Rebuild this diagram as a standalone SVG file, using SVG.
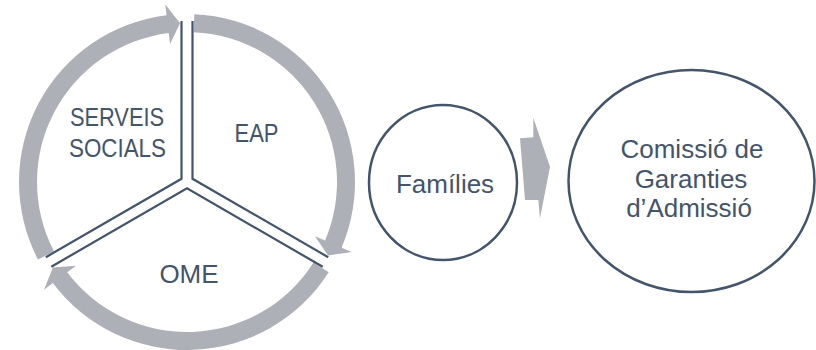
<svg xmlns="http://www.w3.org/2000/svg" width="816" height="350" viewBox="0 0 816 350">
<style>
.ring{fill:#ADB0B7;stroke:none}
.edge{fill:none;stroke:#44546A;stroke-width:2.2;stroke-linejoin:miter}
.node{fill:#FFFFFF;stroke:#44546A;stroke-width:2.5}
.arrow{fill:#ADB0B7;stroke:none}
.lbl{font-family:"Liberation Sans",Arial,sans-serif;font-size:26px;fill:#44546A;text-anchor:middle}
</style>
<rect width="816" height="350" fill="#FFFFFF"/>
<g id="connectors">
<path class="ring" d="M38,259.6 A168,168 0 0 1 166.53,15.25 L165.19,4.33 L180.06,23.15 L170.06,44.04 L168.72,33.12 A150,150 0 0 0 53.95,251.25 Z"/>
<path class="ring" d="M194.33,14.16 A168,168 0 0 1 341.64,247.64 L351.77,251.94 L328.03,255.42 L314.95,236.31 L325.08,240.61 A150,150 0 0 0 193.54,32.14 Z"/>
<path class="ring" d="M328.69,272.27 A168,168 0 0 1 52.83,283.11 L44.04,289.73 L52.9,267.43 L75.99,265.65 L67.2,272.27 A150,150 0 0 0 313.51,262.6 Z"/>
<polygon class="arrow" points="520,138.3 533.3,137.3 533.3,117.7 550,166.7 540,218.3 538.3,200 525,200"/>
</g>
<g id="serveis-socials">
<path class="edge" d="M181.5,21 L181.5,178.8 L45.8,257.2"/>
<text class="lbl" x="117" y="125.7" textLength="94" lengthAdjust="spacingAndGlyphs">SERVEIS</text>
<text class="lbl" x="117.5" y="156.7" textLength="97" lengthAdjust="spacingAndGlyphs">SOCIALS</text>
</g>
<g id="eap">
<path class="edge" d="M192.5,21 L192.5,178.8 L328.2,257.2"/>
<text class="lbl" x="256.5" y="142" textLength="44" lengthAdjust="spacingAndGlyphs">EAP</text>
</g>
<g id="ome">
<path class="edge" d="M51.3,266.7 L187,188.35 L322.7,266.7"/>
<text class="lbl" x="189" y="283">OME</text>
</g>
<g id="families">
<ellipse class="node" cx="443" cy="182.5" rx="74" ry="77.5"/>
<text class="lbl" x="445" y="193.3">Famílies</text>
</g>
<g id="comissio">
<ellipse class="node" cx="691.5" cy="181" rx="123" ry="111"/>
<text class="lbl" x="692" y="158">Comissió de</text>
<text class="lbl" x="691" y="187.5">Garanties</text>
<text class="lbl" x="689" y="217">d’Admissió</text>
</g>
</svg>
